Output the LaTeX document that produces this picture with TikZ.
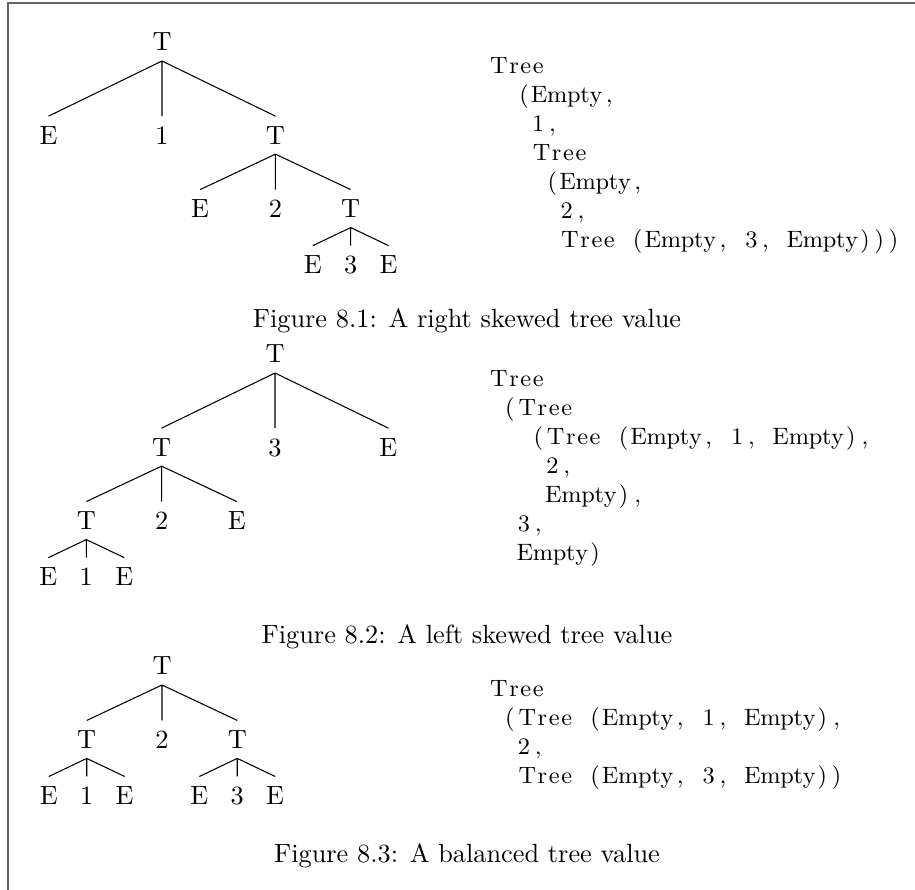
\documentclass[tikz,border=0pt]{standalone}
\usetikzlibrary{positioning}

% code lines in fixed columns (write ~ for a blank); a word of letters is
% spread over its columns, other characters sit centred in one column
\newcount\fixwordlen
\newcommand{\fixcols}[1]{\def\fixwordacc{}\fixwordlen=0 \fixcolsloop#1\relax}
\def\fixcolsloop#1{%
  \ifcat a\noexpand#1%
    \edef\fixwordacc{\fixwordacc\hss#1}\advance\fixwordlen by 1
  \else
    \fixflushword
    \ifx#1\relax\else\makebox[0.6em]{#1}\fi
  \fi
  \ifx#1\relax\else\expandafter\fixcolsloop\fi}
\def\fixflushword{\ifnum\fixwordlen>0
    \hbox to \fixwordlen\dimexpr0.6em\relax{\fixwordacc\hss}%
    \def\fixwordacc{}\fixwordlen=0
  \fi}

\begin{document}
\begin{tikzpicture}[x=0.38pt, y=-0.38pt, on grid]
        % Define styles
        \tikzstyle{lbl} = [inner sep=3.6pt, text height=6.83pt, text depth=0pt]
        \tikzstyle{code} = [anchor=north west, inner sep=0pt, align=left, font=\small]
        \tikzstyle{caption} = [anchor=base]

        % Page frame
        \useasboundingbox (0,0) rectangle (915,890);
        \draw [black!60, line width=0.8pt] (8.3,890) -- (8.3,2.7) -- (915,2.7);

        % Right skewed tree
        \node [lbl] (t1) at (162,42) {T};
        \node [lbl, below left=35.4pt and 43.1pt of t1] (t1l) {E};
        \node [lbl, below=35.4pt of t1] (t1m) {1};
        \node [lbl, below right=35.4pt and 43.1pt of t1] (t1r) {T};
        \node [lbl, below left=27.9pt and 28.6pt of t1r] (t1rl) {E};
        \node [lbl, below=27.9pt of t1r] (t1rm) {2};
        \node [lbl, below right=27.9pt and 28.6pt of t1r] (t1rr) {T};
        \node [lbl, below left=21.3pt and 14.4pt of t1rr] (t1rrl) {E};
        \node [lbl, below=21.3pt of t1rr] (t1rrm) {3};
        \node [lbl, below right=21.3pt and 14.4pt of t1rr] (t1rrr) {E};

        \draw (t1.south) -- (t1l.north) (t1.south) -- (t1m.north) (t1.south) -- (t1r.north);
        \draw (t1r.south) -- (t1rl.north) (t1r.south) -- (t1rm.north) (t1r.south) -- (t1rr.north);
        \draw (t1rr.south) -- (t1rrl.north) (t1rr.south) -- (t1rrm.north) (t1rr.south) -- (t1rrr.north);

        \node [code] (code1) at (488,57) {\fixcols{Tree}\\
            \fixcols{~~(Empty,}\\
            \fixcols{~~~1,}\\
            \fixcols{~~~Tree}\\
            \fixcols{~~~~(Empty,}\\
            \fixcols{~~~~~2,}\\
            \fixcols{~~~~~Tree~(Empty,~3,~Empty)))}};

        \node [caption] (cap1) at (467,328) {Figure 8.1: A right skewed tree value};

        % Left skewed tree
        \node [lbl] (t2) at (275,354) {T};
        \node [lbl, below left=35.4pt and 43.1pt of t2] (t2l) {T};
        \node [lbl, below=35.4pt of t2] (t2m) {3};
        \node [lbl, below right=35.4pt and 43.1pt of t2] (t2r) {E};
        \node [lbl, below left=27.9pt and 28.6pt of t2l] (t2ll) {T};
        \node [lbl, below=27.9pt of t2l] (t2lm) {2};
        \node [lbl, below right=27.9pt and 28.6pt of t2l] (t2lr) {E};
        \node [lbl, below left=21.3pt and 14.4pt of t2ll] (t2lll) {E};
        \node [lbl, below=21.3pt of t2ll] (t2llm) {1};
        \node [lbl, below right=21.3pt and 14.4pt of t2ll] (t2llr) {E};

        \draw (t2.south) -- (t2l.north) (t2.south) -- (t2m.north) (t2.south) -- (t2r.north);
        \draw (t2l.south) -- (t2ll.north) (t2l.south) -- (t2lm.north) (t2l.south) -- (t2lr.north);
        \draw (t2ll.south) -- (t2lll.north) (t2ll.south) -- (t2llm.north) (t2ll.south) -- (t2llr.north);

        \node [code] (code2) at (488,370) {\fixcols{Tree}\\
            \fixcols{~(Tree}\\
            \fixcols{~~~(Tree~(Empty,~1,~Empty),}\\
            \fixcols{~~~~2,}\\
            \fixcols{~~~~Empty),}\\
            \fixcols{~~3,}\\
            \fixcols{~~Empty)}};

        \node [caption] (cap2) at (467,644) {Figure 8.2: A left skewed tree value};

        % Balanced tree
        \node [lbl] (t3) at (162,666) {T};
        \node [lbl, below left=27.9pt and 28.6pt of t3] (t3l) {T};
        \node [lbl, below=27.9pt of t3] (t3m) {2};
        \node [lbl, below right=27.9pt and 28.6pt of t3] (t3r) {T};
        \node [lbl, below left=21.3pt and 14.4pt of t3l] (t3ll) {E};
        \node [lbl, below=21.3pt of t3l] (t3lm) {1};
        \node [lbl, below right=21.3pt and 14.4pt of t3l] (t3lr) {E};
        \node [lbl, below left=21.3pt and 14.4pt of t3r] (t3rl) {E};
        \node [lbl, below=21.3pt of t3r] (t3rm) {3};
        \node [lbl, below right=21.3pt and 14.4pt of t3r] (t3rr) {E};

        \draw (t3.south) -- (t3l.north) (t3.south) -- (t3m.north) (t3.south) -- (t3r.north);
        \draw (t3l.south) -- (t3ll.north) (t3l.south) -- (t3lm.north) (t3l.south) -- (t3lr.north);
        \draw (t3r.south) -- (t3rl.north) (t3r.south) -- (t3rm.north) (t3r.south) -- (t3rr.north);

        \node [code] (code3) at (488,680) {\fixcols{Tree}\\
            \fixcols{~(Tree~(Empty,~1,~Empty),}\\
            \fixcols{~~2,}\\
            \fixcols{~~Tree~(Empty,~3,~Empty))}};

        \node [caption] (cap3) at (467,863) {Figure 8.3: A balanced tree value};

    \end{tikzpicture}
\end{document}
